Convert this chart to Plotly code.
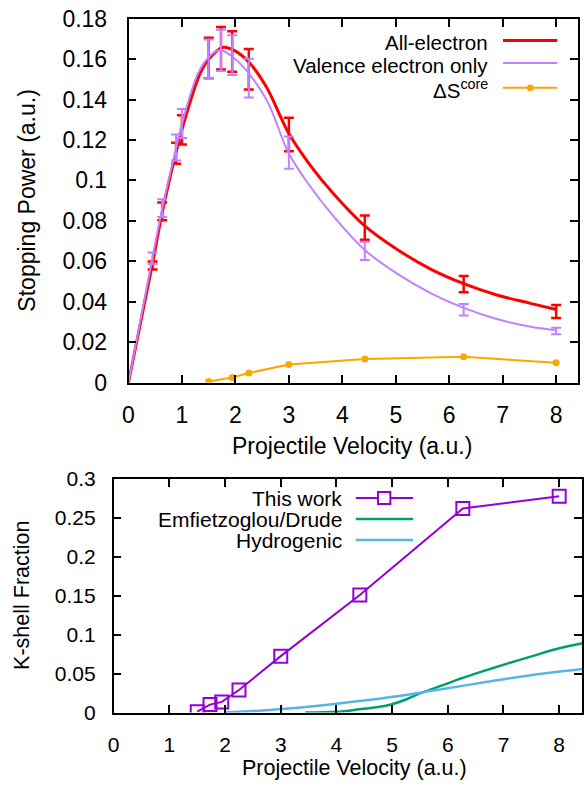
import plotly.graph_objects as go

W, H = 584, 797
FONT = "Liberation Sans, Arial, Helvetica, sans-serif"

# ---------------- top panel: stopping power ----------------
velocity = [0.45, 0.63, 0.89, 1.0, 1.5, 1.73, 1.94, 2.25, 3.0, 4.42, 6.27, 8.0]

all_electron = [0.0579, 0.0847, 0.1134, 0.125, 0.1606, 0.1654, 0.1638, 0.155, 0.1227, 0.0767, 0.0487, 0.0351]
all_electron_err = [0.002, 0.0044, 0.0052, 0.0072, 0.010, 0.0105, 0.010, 0.010, 0.0083, 0.006, 0.004, 0.0032]

valence_only = [0.0615, 0.0863, 0.1163, 0.1282, 0.1602, 0.1644, 0.162, 0.1506, 0.1138, 0.0651, 0.036, 0.0255]
valence_only_err = [0.0028, 0.0044, 0.0064, 0.0072, 0.0096, 0.0102, 0.0098, 0.0096, 0.008, 0.0045, 0.0028, 0.0016]

# smooth fitted curves
fit_v_all = [0, 0.45, 0.63, 0.89, 1.03, 1.34, 1.5, 1.76, 2.0, 2.27, 2.58, 3.0, 3.4, 3.81, 4.42, 5.04, 5.66, 6.27, 6.89, 7.5, 8.0]
fit_all = [0, 0.059, 0.084, 0.114, 0.128, 0.153, 0.160, 0.1658, 0.164, 0.158, 0.1462, 0.1232, 0.1075, 0.0942, 0.0775, 0.0656, 0.056, 0.0489, 0.0433, 0.0393, 0.0361]

fit_v_val = [0, 0.45, 0.63, 0.89, 1.0, 1.3, 1.5, 1.71, 2.0, 2.25, 2.6, 3.0, 3.4, 3.81, 4.42, 5.04, 5.66, 6.27, 6.89, 7.5, 8.0]
fit_val = [0, 0.062, 0.086, 0.116, 0.128, 0.153, 0.161, 0.1645, 0.160, 0.153, 0.139, 0.1133, 0.097, 0.0831, 0.0656, 0.0536, 0.0441, 0.0369, 0.0314, 0.0277, 0.0258]

core_v = [1.5, 1.94, 2.25, 3.0, 4.42, 6.27, 8.0]
delta_core = [0.0005, 0.0025, 0.0047, 0.0089, 0.0116, 0.0127, 0.0098]

sp_ticks = [0, 0.02, 0.04, 0.06, 0.08, 0.1, 0.12, 0.14, 0.16, 0.18]
sp_ticktext = ["0", "0.02", "0.04", "0.06", "0.08", "0.1", "0.12", "0.14", "0.16", "0.18"]

# ---------------- bottom panel: K-shell fraction ----------------
kshell_v = [1.5, 1.73, 1.94, 2.25, 3.0, 4.42, 6.27, 8.0]
kshell_frac = [0.0012, 0.0103, 0.0137, 0.029, 0.0725, 0.151, 0.262, 0.2776]

drude_v = [3.44, 4.0, 4.45, 4.72, 4.98, 5.25, 5.51, 5.99, 6.22, 6.58, 7.05, 7.52, 8.0, 8.42]
drude_frac = [0, 0.001, 0.0046, 0.0068, 0.0104, 0.0168, 0.025, 0.0373, 0.0435, 0.052, 0.0625, 0.0725, 0.0825, 0.0889]

hydro_v = [2.0, 2.5, 3.03, 4.04, 4.98, 5.69, 6.58, 7.52, 8.42]
hydro_frac = [0, 0.002, 0.0045, 0.0116, 0.0199, 0.0277, 0.038, 0.0484, 0.056]

kf_ticks = [0, 0.05, 0.1, 0.15, 0.2, 0.25, 0.3]
kf_ticktext = ["0", "0.05", "0.1", "0.15", "0.2", "0.25", "0.3"]

v_ticks = [0, 1, 2, 3, 4, 5, 6, 7, 8]

RED = "#ff0000"
LILAC = "#c080ff"
ORANGE = "#ffa500"
VIOLET = "#9400d3"
GREEN = "#009e73"
SKY = "#56b4e9"

TOP_SIZE = 23
BOTTOM_SIZE = 21


def px(x):
    return x / W


def py(y):
    return 1 - y / H


fig = go.Figure()

# top panel traces
fig.add_trace(go.Scatter(x=fit_v_all, y=fit_all, mode="lines", line=dict(color=RED, width=3, shape="spline"),
                         xaxis="x", yaxis="y", hoverinfo="skip"))
fig.add_trace(go.Scatter(x=velocity, y=all_electron, mode="markers",
                         marker=dict(size=1, color="rgba(0,0,0,0)"),
                         error_y=dict(type="data", array=all_electron_err, color=RED, thickness=2.5, width=5),
                         xaxis="x", yaxis="y"))
fig.add_trace(go.Scatter(x=fit_v_val, y=fit_val, mode="lines", line=dict(color=LILAC, width=2, shape="spline"),
                         xaxis="x", yaxis="y", hoverinfo="skip"))
fig.add_trace(go.Scatter(x=velocity, y=valence_only, mode="markers",
                         marker=dict(size=1, color="rgba(0,0,0,0)"),
                         error_y=dict(type="data", array=valence_only_err, color=LILAC, thickness=2, width=5),
                         xaxis="x", yaxis="y"))
fig.add_trace(go.Scatter(x=core_v, y=delta_core, mode="lines+markers",
                         line=dict(color=ORANGE, width=2), marker=dict(color=ORANGE, size=7),
                         xaxis="x", yaxis="y"))

# bottom panel traces
fig.add_trace(go.Scatter(x=drude_v, y=drude_frac, mode="lines", line=dict(color=GREEN, width=2.5, shape="spline"),
                         xaxis="x2", yaxis="y2"))
fig.add_trace(go.Scatter(x=hydro_v, y=hydro_frac, mode="lines", line=dict(color=SKY, width=2.5, shape="spline"),
                         xaxis="x2", yaxis="y2"))
fig.add_trace(go.Scatter(x=kshell_v, y=kshell_frac, mode="lines+markers",
                         line=dict(color=VIOLET, width=2),
                         marker=dict(symbol="square-open", size=13, color=VIOLET, line=dict(width=2, color=VIOLET)),
                         xaxis="x2", yaxis="y2"))

axis_common = dict(showline=True, linecolor="black", linewidth=1.5, mirror="ticks", ticks="inside",
                   ticklen=8, tickwidth=1.5, tickcolor="black", showgrid=False, zeroline=False)

fig.update_layout(
    width=W, height=H, margin=dict(l=0, r=0, t=0, b=0),
    paper_bgcolor="white", plot_bgcolor="white", showlegend=False,
    font=dict(family=FONT, color="black"),
    xaxis=dict(domain=[px(124), px(579)], range=[0, 8.41], tickvals=v_ticks, anchor="y",
               tickfont=dict(size=TOP_SIZE), ticklabelstandoff=11, **axis_common),
    yaxis=dict(domain=[py(382.5), py(7)], range=[0, 0.18], tickvals=sp_ticks, ticktext=sp_ticktext,
               anchor="x", tickfont=dict(size=TOP_SIZE), ticklabelstandoff=15, **axis_common),
    xaxis2=dict(domain=[px(109), px(583)], range=[0, 8.41], tickvals=v_ticks, anchor="y2",
                tickfont=dict(size=BOTTOM_SIZE), ticklabelstandoff=12, **axis_common),
    yaxis2=dict(domain=[py(723.3), py(482)], range=[0, 0.3], tickvals=kf_ticks, ticktext=kf_ticktext,
                anchor="x2", tickfont=dict(size=BOTTOM_SIZE), ticklabelstandoff=12, **axis_common),
)

annotations = [
    dict(text="Stopping Power (a.u.)", x=px(21), y=py(195), textangle=-90, font=dict(size=TOP_SIZE)),
    dict(text="Projectile Velocity (a.u.)", x=px(350), y=py(448), font=dict(size=TOP_SIZE)),
    dict(text="K-shell Fraction", x=px(16), y=py(602), textangle=-90, font=dict(size=BOTTOM_SIZE + 0.5)),
    dict(text="Projectile Velocity (a.u.)", x=px(353), y=py(780), font=dict(size=BOTTOM_SIZE + 0.5)),
    # top legend
    dict(text="All-electron", x=px(490), y=py(31), xanchor="right", font=dict(size=20.5)),
    dict(text="Valence electron only", x=px(490), y=py(55), xanchor="right", font=dict(size=20.5)),
    dict(text="ΔS<sup>core</sup>", x=px(490), y=py(79), xanchor="right", font=dict(size=20.5)),
    # bottom legend
    dict(text="This work", x=px(342), y=py(502), xanchor="right", font=dict(size=BOTTOM_SIZE)),
    dict(text="Emfietzoglou/Drude", x=px(342), y=py(524), xanchor="right", font=dict(size=BOTTOM_SIZE)),
    dict(text="Hydrogenic", x=px(342), y=py(546), xanchor="right", font=dict(size=BOTTOM_SIZE)),
]
for a in annotations:
    a.update(xref="paper", yref="paper", showarrow=False)
    a.setdefault("xanchor", "center")
    a.setdefault("yanchor", "middle")
fig.update_layout(annotations=annotations)

shapes = []


def legend_line(x0, x1, y, color, width):
    shapes.append(dict(type="line", xref="paper", yref="paper", x0=px(x0), x1=px(x1), y0=py(y), y1=py(y),
                       line=dict(color=color, width=width)))


legend_line(503, 558, 29.3, RED, 3)
legend_line(503, 558, 52.7, LILAC, 2)
legend_line(503, 558, 78.3, ORANGE, 2)
shapes.append(dict(type="circle", xref="paper", yref="paper", x0=px(527.2), x1=px(534.2), y0=py(74.8), y1=py(81.8),
                   fillcolor=ORANGE, line=dict(color=ORANGE, width=0)))

legend_line(354, 412, 501.7, VIOLET, 2)
legend_line(354, 412, 523.3, GREEN, 2.5)
legend_line(354, 412, 545, SKY, 2.5)
shapes.append(dict(type="rect", xref="paper", yref="paper", x0=px(376.5), x1=px(389), y0=py(495.5), y1=py(508),
                   fillcolor="white", line=dict(color=VIOLET, width=2)))
fig.update_layout(shapes=shapes)

fig.write_html("out.html")
